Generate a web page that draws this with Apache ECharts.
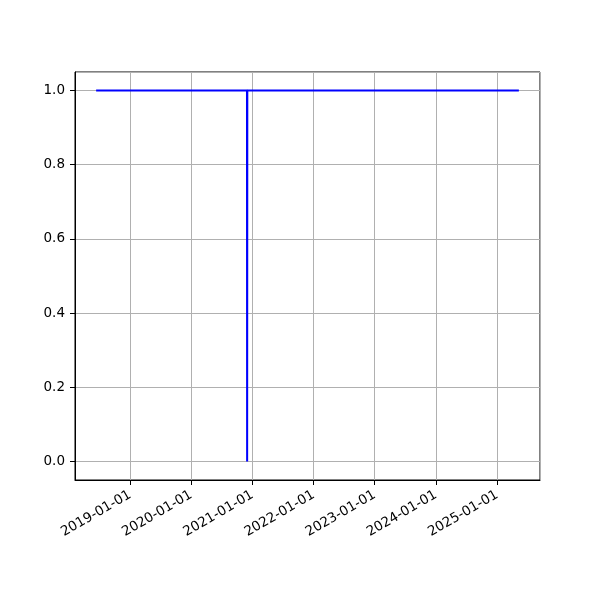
<!DOCTYPE html>
<html><head><meta charset="utf-8">
<script src="https://cdn.jsdelivr.net/npm/echarts@6/dist/echarts.min.js"></script>
<style>html,body{margin:0;padding:0;background:#fff}#c{width:600px;height:600px}</style>
</head><body><div id="c"></div>
<script>
const dates = ['2018-06-12', '2020-11-29', '2020-11-30', '2020-12-01', '2025-05-11'];
const values = [1, 1, 0, 1, 1];
const yTicks = [0, 0.2, 0.4, 0.6, 0.8, 1.0];

const ts = dates.map(d => Date.parse(d + 'T00:00:00Z'));
const span = ts[ts.length - 1] - ts[0];
const xMin = ts[0] - span * 0.05, xMax = ts[ts.length - 1] + span * 0.05;
const yMin = -0.05, yMax = 1.05;

const chart = echarts.init(document.getElementById('c'), null, {renderer: 'canvas'});
const font = 'DejaVu Sans';
chart.setOption({
  animation: false,
  grid: {left: 75, right: 60, top: 72, bottom: 120, show: true, borderColor: '#000', borderWidth: 1, backgroundColor: 'transparent'},
  xAxis: {
    type: 'time', min: xMin, max: xMax,
    minInterval: 365 * 86400000, maxInterval: 366 * 86400000,
    axisLine: {show: true, onZero: false, lineStyle: {color: '#000', width: 1}},
    axisTick: {show: true, length: 5, lineStyle: {color: '#000'}},
    splitLine: {show: true, lineStyle: {color: '#b0b0b0', width: 1}},
    minorTick: {show: false},
    axisLabel: {
      rotate: 30, margin: 14, fontFamily: font, fontSize: 13.5, color: '#000',
      showMinLabel: false, showMaxLabel: false,
      formatter: function (v) {
        const d = new Date(v);
        if (d.getUTCMonth() !== 0 || d.getUTCDate() !== 1) return '';
        return d.getUTCFullYear() + '-01-01';
      }
    }
  },
  yAxis: {
    type: 'value', min: yMin, max: yMax, splitNumber: 5,
    axisLine: {show: true, lineStyle: {color: '#000', width: 1}},
    axisTick: {show: true, length: 5, lineStyle: {color: '#000'}},
    splitLine: {show: true, lineStyle: {color: '#b0b0b0', width: 1}},
    axisLabel: {
      margin: 10, fontFamily: font, fontSize: 13.5, color: '#000',
      showMinLabel: false, showMaxLabel: false,
      formatter: function (v) {
        const r = Math.round(v * 10) / 10;
        if (Math.abs(v - r) > 1e-6 || !yTicks.some(t => Math.abs(t - r) < 1e-6)) return '';
        return r.toFixed(1);
      }
    }
  },
  series: [{
    type: 'line', showSymbol: false, symbol: 'none',
    lineStyle: {color: '#0000ff', width: 2},
    data: ts.map((t, i) => [t, values[i]])
  }]
});
</script></body></html>
